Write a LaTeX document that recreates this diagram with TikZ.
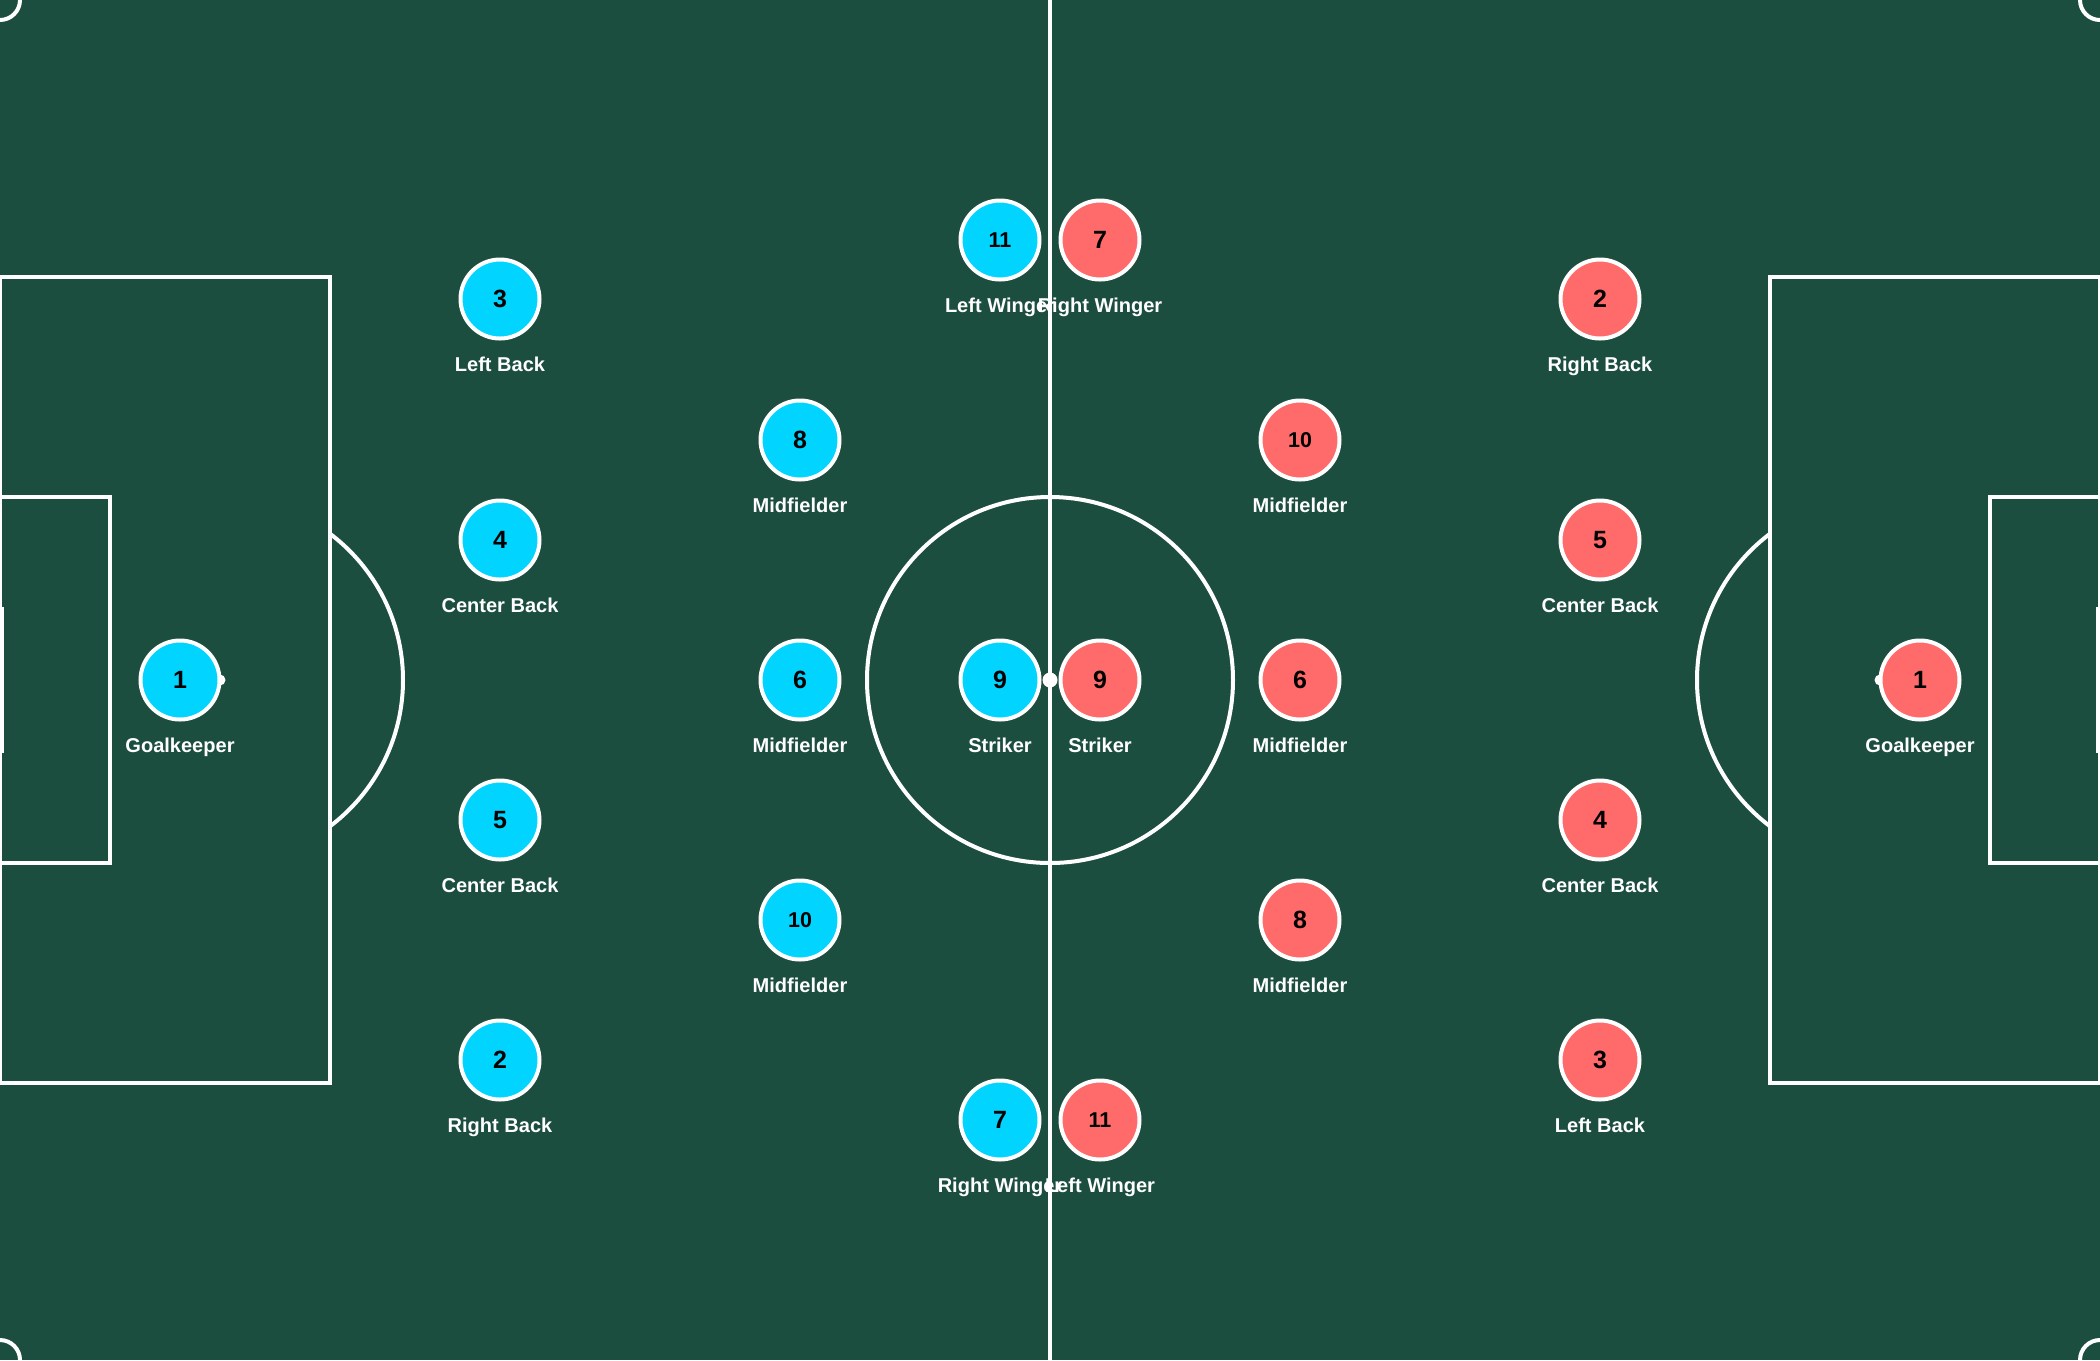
\documentclass[tikz,border=0pt]{standalone}
\usepackage{fontspec}
\setmainfont{Liberation Sans}
\usetikzlibrary{calc}
\definecolor{pitch}{HTML}{1C4E3F}
\definecolor{teamA}{HTML}{00D4FF}
\definecolor{teamB}{HTML}{FF6B6B}
\begin{document}
\begin{tikzpicture}[x=0.2cm,y=-0.2cm,
  pline/.style={draw=white,line width=0.04cm},
  plyr/.style={circle,draw=white,line width=0.04cm,minimum size=0.79cm,inner sep=0pt,text=black,font=\bfseries\fontsize{7.1}{8}\selectfont},
  plyrsm/.style={plyr,font=\bfseries\fontsize{6.1}{7}\selectfont},
  ta/.style={fill=teamA},
  tb/.style={fill=teamB},
  lbl/.style={anchor=base,text=white,font=\bfseries\fontsize{5.7}{7}\selectfont,inner sep=0pt}]
\useasboundingbox (0,0) rectangle (105,68);
\clip (0,0) rectangle (105,68);
\fill[pitch] (0,0) rectangle (105,68);
% pitch markings
\draw[pline] (52.5,0) -- (52.5,68);
\draw[pline] (52.5,34) circle[radius=1.83cm];
\draw[pline] (0,13.84) rectangle (16.5,54.16);
\draw[pline] (0,24.84) rectangle (5.5,43.16);
\draw[pline] (88.5,13.84) rectangle (105,54.16);
\draw[pline] (99.5,24.84) rectangle (105,43.16);
\begin{scope}
  \clip (16.5,0) rectangle (88.5,68);
  \draw[pline] (11,34) circle[radius=1.83cm];
  \draw[pline] (94,34) circle[radius=1.83cm];
\end{scope}
\draw[pline] (0,0) circle[radius=0.2cm];
\draw[pline] (105,0) circle[radius=0.2cm];
\draw[pline] (0,68) circle[radius=0.2cm];
\draw[pline] (105,68) circle[radius=0.2cm];
\draw[white,line width=0.08cm] (0,30.34) -- (0,37.66);
\draw[white,line width=0.08cm] (105,30.34) -- (105,37.66);
\fill[white] (52.5,34) circle[radius=0.075cm];
\fill[white] (11,34) circle[radius=0.055cm];
\fill[white] (94,34) circle[radius=0.055cm];
% blue team
\node[plyr,ta] (a1) at (9,34) {1};
\node[plyr,ta] (a3) at (25,14.95) {3};
\node[plyr,ta] (a4) at (25,27) {4};
\node[plyr,ta] (a5) at (25,41) {5};
\node[plyr,ta] (a2) at (25,53) {2};
\node[plyr,ta] (a8) at (40,22) {8};
\node[plyr,ta] (a6) at (40,34) {6};
\node[plyrsm,ta] (a10) at (40,46) {10};
\node[plyrsm,ta] (a11) at (50,12) {11};
\node[plyr,ta] (a9) at (50,34) {9};
\node[plyr,ta] (a7) at (50,56) {7};
% red team
\node[plyr,tb] (b1) at (96,34) {1};
\node[plyr,tb] (b2) at (80,14.95) {2};
\node[plyr,tb] (b5) at (80,27) {5};
\node[plyr,tb] (b4) at (80,41) {4};
\node[plyr,tb] (b3) at (80,53) {3};
\node[plyrsm,tb] (b10) at (65,22) {10};
\node[plyr,tb] (b6) at (65,34) {6};
\node[plyr,tb] (b8) at (65,46) {8};
\node[plyr,tb] (b7) at (55,12) {7};
\node[plyr,tb] (b9) at (55,34) {9};
\node[plyrsm,tb] (b11) at (55,56) {11};
% labels
\foreach \p/\t in {a1/Goalkeeper,a3/Left Back,a4/Center Back,a5/Center Back,a2/Right Back,
  a8/Midfielder,a6/Midfielder,a10/Midfielder,a11/Left Winger,a9/Striker,a7/Right Winger,
  b1/Goalkeeper,b2/Right Back,b5/Center Back,b4/Center Back,b3/Left Back,
  b10/Midfielder,b6/Midfielder,b8/Midfielder,b7/Right Winger,b9/Striker,b11/Left Winger}
  \node[lbl] (\p-l) at ($(\p)+(0,-0.725cm)$) {\t};
\end{tikzpicture}
\end{document}
